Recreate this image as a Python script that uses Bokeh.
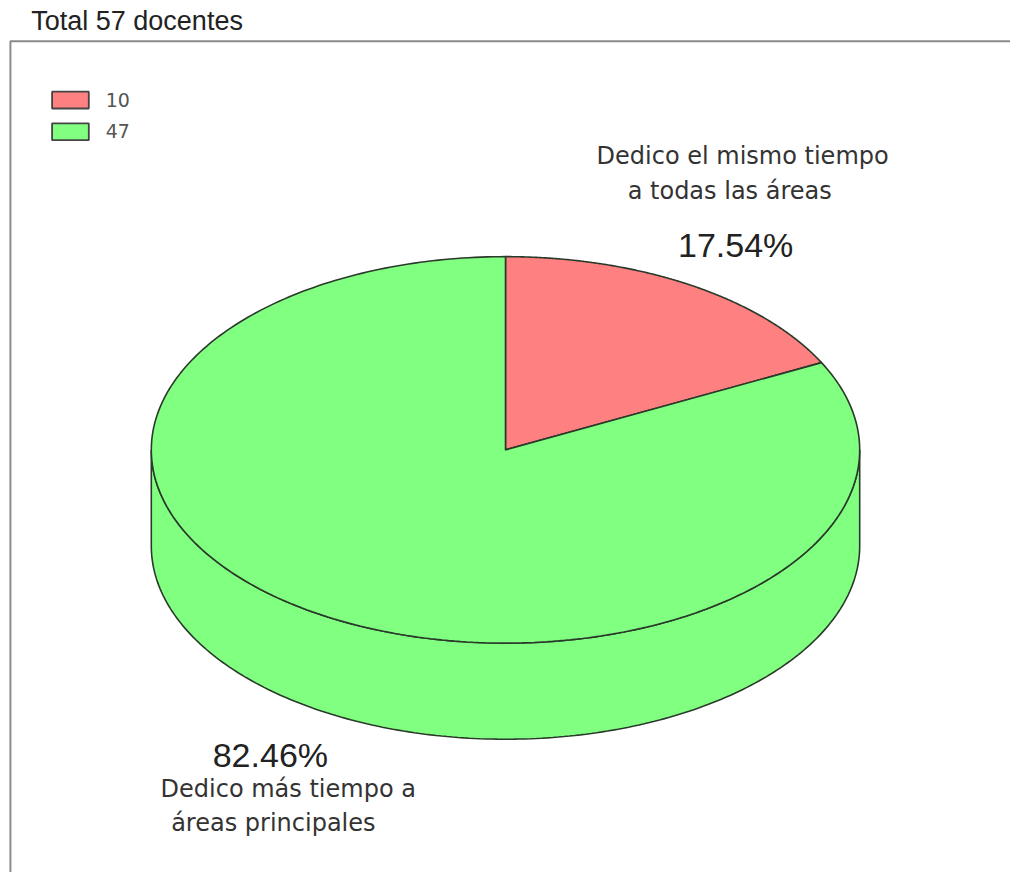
import numpy as np
from bokeh.plotting import figure
from bokeh.models import Range1d
from bokeh.core.properties import value
from bokeh.embed import file_html
from bokeh.resources import INLINE

# ---- data ----
title_text = "Total 57 docentes"
categories = ["Dedico el mismo tiempo a todas las áreas",
              "Dedico más tiempo a áreas principales"]
counts = [10, 47]
colors = ["#FF8080", "#80FF80"]
label_lines = [["Dedico el mismo tiempo", "a todas las áreas"],
               ["Dedico más tiempo a", "áreas principales"]]

total = sum(counts)
fractions = [c / total for c in counts]
pct_labels = ["%.2f%%" % (f * 100) for f in fractions]

# ---- figure in reference-pixel coordinates ----
W, H = 1010, 872
p = figure(width=W, height=H, x_range=Range1d(0, 1018), y_range=Range1d(880, 0),
           output_backend="svg", toolbar_location=None, min_border=0)
p.axis.visible = False
p.grid.visible = False
p.outline_line_color = None
p.background_fill_color = "white"
p.border_fill_color = "white"

# frame
p.line(x=[10, 10, 1025], y=[890, 41, 41], line_color="#8a8a8a", line_width=2)

# title
p.text(x=[31], y=[21], text=[title_text], text_font=value("Liberation Sans"),
       text_font_size="27px", text_color="#222222", text_baseline="middle", text_align="left")

# legend
for i, (c, col) in enumerate(zip(counts, colors)):
    top = 92 + i * 32
    p.quad(left=[52], right=[89], top=[top], bottom=[top + 17], fill_color=col,
           line_color="#444444", line_width=1.8)
    p.text(x=[106], y=[top + 8], text=[str(c)], text_font=value("DejaVu Sans"),
           text_font_size="19px", text_color="#555555", text_baseline="middle", text_align="left")

# ---- 3D pie geometry ----
cx, cy, rx, ry, depth = 509, 453.5, 357, 195, 97
edge = "#2a3a2a"

def pt(theta_deg, dy=0.0):
    t = np.radians(theta_deg)
    return cx + rx * np.sin(t), cy - ry * np.cos(t) + dy

# slice angles (clockwise from top)
starts = np.concatenate([[0], np.cumsum(fractions)[:-1]]) * 360
ends = np.cumsum(fractions) * 360

# side wall (front half, theta 90..270)
th = np.linspace(90, 270, 200)
tx, ty = pt(th)
bx, by = pt(th[::-1], depth)
p.patch(x=np.concatenate([tx, bx]), y=np.concatenate([ty, by]), fill_color=colors[1],
        line_color=edge, line_width=1.6)

# top slices
for s, e, col in zip(starts, ends, colors):
    th = np.linspace(s, e, 300)
    xs, ys = pt(th)
    p.patch(x=np.concatenate([[cx], xs, [cx]]), y=np.concatenate([[cy], ys, [cy]]),
            fill_color=col, line_color=edge, line_width=1.6)

# labels
font = value("DejaVu Sans")
p.text(x=[748], y=[157], text=[label_lines[0][0]], text_font=font, text_font_size="24px",
       text_color="#333333", text_baseline="middle", text_align="center")
p.text(x=[735], y=[192], text=[label_lines[0][1]], text_font=font, text_font_size="24px",
       text_color="#333333", text_baseline="middle", text_align="center")
p.text(x=[741], y=[247], text=[pct_labels[0]], text_font=value("Liberation Sans"),
       text_font_size="34px", text_color="#222222", text_baseline="middle", text_align="center")

p.text(x=[272], y=[761], text=[pct_labels[1]], text_font=value("Liberation Sans"),
       text_font_size="34px", text_color="#222222", text_baseline="middle", text_align="center")
p.text(x=[290], y=[796], text=[label_lines[1][0]], text_font=font, text_font_size="24px",
       text_color="#333333", text_baseline="middle", text_align="center")
p.text(x=[275], y=[830], text=[label_lines[1][1]], text_font=font, text_font_size="24px",
       text_color="#333333", text_baseline="middle", text_align="center")

open("out.html", "w").write(file_html(p, INLINE))
